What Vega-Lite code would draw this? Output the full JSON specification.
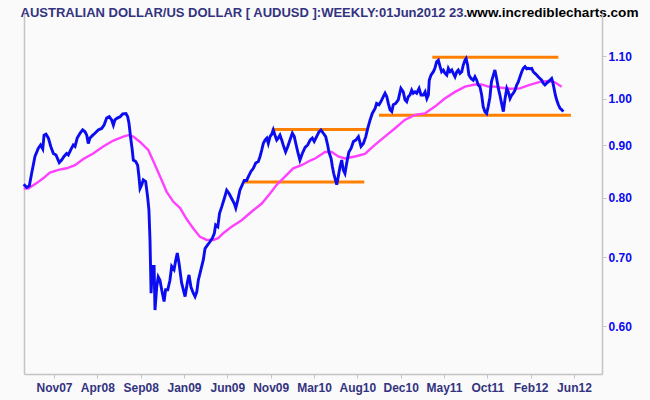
{
  "$schema": "https://vega.github.io/schema/vega-lite/v6.json",
  "width": 578,
  "height": 361,
  "autosize": {"type": "none"},
  "padding": {"left": 24, "top": 13, "right": 48, "bottom": 26},
  "background": "#fafafa",
  "config": {
    "view": {"stroke": null},
    "axis": {"grid": false, "domainColor": "#c4c4c4", "tickColor": "#c4c4c4", "domainWidth": 1.5, "tickWidth": 1}
  },
  "datasets": {
    "price": [
      {"week":0,"close":0.825},{"week":1.4,"close":0.819},{"week":2.6,"close":0.822},{"week":3.7,"close":0.846},{"week":5.2,"close":0.878},{"week":6.7,"close":0.894},{"week":7.8,"close":0.901},{"week":8.8,"close":0.893},{"week":9.4,"close":0.921},{"week":10.3,"close":0.923},{"week":11.4,"close":0.915},{"week":12.5,"close":0.898},{"week":13.7,"close":0.884},{"week":14.9,"close":0.881},{"week":16.4,"close":0.866},{"week":17.5,"close":0.871},{"week":18.6,"close":0.878},{"week":19.8,"close":0.884},{"week":20.6,"close":0.881},{"week":21.7,"close":0.891},{"week":22.9,"close":0.901},{"week":23.7,"close":0.898},{"week":24.7,"close":0.915},{"week":26.0,"close":0.925},{"week":27.2,"close":0.932},{"week":28.3,"close":0.928},{"week":29.1,"close":0.921},{"week":29.8,"close":0.904},{"week":30.6,"close":0.915},{"week":31.9,"close":0.921},{"week":32.9,"close":0.925},{"week":34.4,"close":0.932},{"week":36.0,"close":0.935},{"week":37.1,"close":0.942},{"week":38.3,"close":0.957},{"week":39.5,"close":0.960},{"week":40.6,"close":0.953},{"week":41.4,"close":0.942},{"week":42.1,"close":0.953},{"week":43.2,"close":0.957},{"week":44.5,"close":0.960},{"week":45.7,"close":0.966},{"week":47.2,"close":0.967},{"week":48.0,"close":0.960},{"week":48.6,"close":0.946},{"week":49.5,"close":0.911},{"week":50.1,"close":0.891},{"week":50.6,"close":0.871},{"week":51.7,"close":0.868},{"week":52.6,"close":0.861},{"week":53.2,"close":0.839},{"week":53.7,"close":0.817},{"week":54.5,"close":0.824},{"week":55.2,"close":0.833},{"week":56.3,"close":0.830},{"week":57.2,"close":0.802},{"week":57.8,"close":0.779},{"week":58.3,"close":0.728},{"week":58.8,"close":0.646},{"week":59.4,"close":0.686},{"week":60.2,"close":0.686},{"week":60.6,"close":0.622},{"week":61.4,"close":0.655},{"week":62.1,"close":0.670},{"week":62.9,"close":0.665},{"week":63.7,"close":0.651},{"week":64.8,"close":0.634},{"week":65.5,"close":0.651},{"week":66.5,"close":0.651},{"week":67.5,"close":0.665},{"week":68.3,"close":0.686},{"week":69.4,"close":0.681},{"week":70.2,"close":0.696},{"week":70.9,"close":0.707},{"week":71.7,"close":0.691},{"week":72.9,"close":0.661},{"week":74.5,"close":0.641},{"week":75.5,"close":0.661},{"week":76.3,"close":0.673},{"week":77.2,"close":0.655},{"week":78.3,"close":0.646},{"week":79.1,"close":0.641},{"week":79.9,"close":0.648},{"week":80.6,"close":0.665},{"week":81.8,"close":0.681},{"week":82.9,"close":0.696},{"week":83.7,"close":0.714},{"week":84.9,"close":0.720},{"week":86.0,"close":0.725},{"week":87.1,"close":0.731},{"week":88.0,"close":0.739},{"week":88.6,"close":0.753},{"week":89.6,"close":0.750},{"week":90.4,"close":0.773},{"week":91.4,"close":0.784},{"week":92.6,"close":0.799},{"week":93.7,"close":0.814},{"week":94.8,"close":0.808},{"week":96.0,"close":0.799},{"week":97.2,"close":0.790},{"week":97.9,"close":0.782},{"week":98.8,"close":0.796},{"week":99.8,"close":0.814},{"week":100.9,"close":0.824},{"week":101.8,"close":0.832},{"week":102.9,"close":0.832},{"week":103.7,"close":0.839},{"week":104.9,"close":0.849},{"week":106.0,"close":0.855},{"week":107.1,"close":0.865},{"week":108.3,"close":0.868},{"week":109.1,"close":0.878},{"week":109.9,"close":0.891},{"week":110.6,"close":0.904},{"week":111.4,"close":0.911},{"week":112.2,"close":0.915},{"week":112.9,"close":0.904},{"week":113.7,"close":0.918},{"week":114.5,"close":0.923},{"week":115.2,"close":0.932},{"week":116.0,"close":0.921},{"week":116.8,"close":0.911},{"week":117.5,"close":0.915},{"week":118.3,"close":0.921},{"week":119.1,"close":0.911},{"week":119.8,"close":0.901},{"week":120.9,"close":0.887},{"week":121.9,"close":0.898},{"week":122.9,"close":0.911},{"week":124.0,"close":0.925},{"week":124.9,"close":0.918},{"week":125.6,"close":0.904},{"week":126.5,"close":0.887},{"week":127.5,"close":0.871},{"week":128.6,"close":0.884},{"week":129.9,"close":0.896},{"week":131.1,"close":0.901},{"week":132.2,"close":0.911},{"week":133.2,"close":0.915},{"week":134.1,"close":0.908},{"week":135.2,"close":0.918},{"week":136.3,"close":0.928},{"week":137.2,"close":0.932},{"week":138.3,"close":0.925},{"week":139.4,"close":0.918},{"week":140.3,"close":0.901},{"week":140.9,"close":0.887},{"week":141.9,"close":0.874},{"week":142.5,"close":0.858},{"week":143.1,"close":0.845},{"week":143.7,"close":0.836},{"week":144.5,"close":0.824},{"week":145.2,"close":0.839},{"week":146.0,"close":0.858},{"week":146.8,"close":0.871},{"week":147.5,"close":0.852},{"week":148.3,"close":0.845},{"week":149.1,"close":0.865},{"week":150.1,"close":0.887},{"week":151.1,"close":0.894},{"week":152.2,"close":0.908},{"week":153.3,"close":0.911},{"week":154.5,"close":0.918},{"week":155.7,"close":0.898},{"week":156.8,"close":0.904},{"week":157.9,"close":0.918},{"week":158.8,"close":0.935},{"week":159.9,"close":0.953},{"week":160.9,"close":0.967},{"week":162.2,"close":0.978},{"week":162.9,"close":0.989},{"week":164.0,"close":0.986},{"week":164.9,"close":0.993},{"week":166.0,"close":1.004},{"week":166.8,"close":1.012},{"week":167.6,"close":1.004},{"week":168.3,"close":0.989},{"week":169.1,"close":0.975},{"week":169.9,"close":0.971},{"week":170.6,"close":0.986},{"week":171.7,"close":0.989},{"week":172.9,"close":0.997},{"week":174.1,"close":1.023},{"week":175.2,"close":1.015},{"week":176.0,"close":0.997},{"week":176.8,"close":0.993},{"week":177.5,"close":1.004},{"week":178.3,"close":1.008},{"week":179.1,"close":1.019},{"week":179.8,"close":1.012},{"week":180.6,"close":1.015},{"week":181.4,"close":1.012},{"week":182.5,"close":1.023},{"week":183.4,"close":1.008},{"week":184.5,"close":1.008},{"week":185.3,"close":1.015},{"week":186.1,"close":1.000},{"week":186.8,"close":1.008},{"week":187.2,"close":1.042},{"week":188.0,"close":1.054},{"week":189.1,"close":1.062},{"week":189.8,"close":1.070},{"week":190.6,"close":1.086},{"week":191.4,"close":1.090},{"week":192.2,"close":1.074},{"week":192.9,"close":1.062},{"week":193.7,"close":1.066},{"week":194.5,"close":1.058},{"week":195.3,"close":1.054},{"week":196.0,"close":1.070},{"week":196.8,"close":1.062},{"week":197.6,"close":1.066},{"week":198.3,"close":1.058},{"week":199.1,"close":1.050},{"week":199.9,"close":1.062},{"week":200.6,"close":1.066},{"week":201.4,"close":1.058},{"week":202.2,"close":1.062},{"week":202.9,"close":1.078},{"week":203.7,"close":1.090},{"week":204.2,"close":1.094},{"week":204.9,"close":1.078},{"week":205.5,"close":1.054},{"week":206.5,"close":1.046},{"week":207.5,"close":1.042},{"week":208.3,"close":1.050},{"week":209.1,"close":1.042},{"week":209.8,"close":1.031},{"week":210.6,"close":1.027},{"week":211.4,"close":1.008},{"week":212.1,"close":0.982},{"week":212.9,"close":0.971},{"week":213.7,"close":0.967},{"week":214.4,"close":0.982},{"week":215.2,"close":1.003},{"week":215.9,"close":1.038},{"week":216.8,"close":1.054},{"week":217.5,"close":1.066},{"week":218.3,"close":1.046},{"week":219.1,"close":1.023},{"week":219.8,"close":1.008},{"week":220.6,"close":0.989},{"week":221.4,"close":0.971},{"week":222.2,"close":1.000},{"week":223.0,"close":1.023},{"week":223.7,"close":1.015},{"week":224.5,"close":1.000},{"week":225.3,"close":1.008},{"week":226.0,"close":1.012},{"week":226.8,"close":1.019},{"week":227.6,"close":1.031},{"week":228.3,"close":1.038},{"week":229.1,"close":1.050},{"week":229.9,"close":1.062},{"week":230.6,"close":1.070},{"week":231.4,"close":1.074},{"week":232.2,"close":1.069},{"week":232.9,"close":1.070},{"week":233.7,"close":1.069},{"week":234.5,"close":1.070},{"week":235.2,"close":1.062},{"week":236.0,"close":1.058},{"week":236.8,"close":1.054},{"week":237.5,"close":1.050},{"week":238.3,"close":1.046},{"week":239.1,"close":1.042},{"week":239.8,"close":1.035},{"week":240.6,"close":1.031},{"week":241.4,"close":1.035},{"week":242.1,"close":1.038},{"week":242.9,"close":1.042},{"week":243.7,"close":1.046},{"week":244.2,"close":1.038},{"week":244.8,"close":1.023},{"week":245.4,"close":1.008},{"week":246.0,"close":0.997},{"week":246.8,"close":0.986},{"week":247.6,"close":0.978},{"week":248.4,"close":0.975},{"week":249.1,"close":0.971}
    ],
    "ma": [
      {"week":0,"ma":0.817},{"week":2.1,"ma":0.817},{"week":6.0,"ma":0.827},{"week":9.0,"ma":0.836},{"week":12.1,"ma":0.847},{"week":16.0,"ma":0.852},{"week":19.8,"ma":0.855},{"week":23.7,"ma":0.861},{"week":27.5,"ma":0.873},{"week":32.1,"ma":0.884},{"week":36.7,"ma":0.898},{"week":41.4,"ma":0.910},{"week":46.0,"ma":0.918},{"week":48.3,"ma":0.921},{"week":50.6,"ma":0.918},{"week":53.7,"ma":0.907},{"week":57.5,"ma":0.891},{"week":59.8,"ma":0.869},{"week":62.9,"ma":0.840},{"week":66.0,"ma":0.811},{"week":69.1,"ma":0.793},{"week":72.2,"ma":0.782},{"week":75.2,"ma":0.763},{"week":78.3,"ma":0.747},{"week":81.4,"ma":0.733},{"week":84.5,"ma":0.728},{"week":87.5,"ma":0.728},{"week":89.8,"ma":0.731},{"week":92.1,"ma":0.739},{"week":96.0,"ma":0.750},{"week":100.6,"ma":0.761},{"week":105.3,"ma":0.776},{"week":109.9,"ma":0.790},{"week":113.7,"ma":0.808},{"week":116.8,"ma":0.824},{"week":120.6,"ma":0.839},{"week":124.4,"ma":0.855},{"week":128.3,"ma":0.861},{"week":132.2,"ma":0.870},{"week":134.5,"ma":0.874},{"week":139.1,"ma":0.887},{"week":142.2,"ma":0.887},{"week":145.2,"ma":0.878},{"week":148.3,"ma":0.874},{"week":152.9,"ma":0.878},{"week":157.5,"ma":0.883},{"week":162.1,"ma":0.901},{"week":166.7,"ma":0.918},{"week":171.3,"ma":0.935},{"week":175.9,"ma":0.953},{"week":180.6,"ma":0.964},{"week":185.2,"ma":0.967},{"week":189.8,"ma":0.982},{"week":194.4,"ma":1.000},{"week":199.1,"ma":1.015},{"week":203.7,"ma":1.027},{"week":208.3,"ma":1.032},{"week":211.4,"ma":1.032},{"week":214.4,"ma":1.027},{"week":217.5,"ma":1.027},{"week":219.8,"ma":1.025},{"week":224.4,"ma":1.022},{"week":229.0,"ma":1.023},{"week":233.6,"ma":1.031},{"week":238.3,"ma":1.038},{"week":242.1,"ma":1.040},{"week":245.2,"ma":1.037},{"week":248.3,"ma":1.027}
    ],
    "levels": [
      {"from":101.8,"to":157.2,"level":0.829},
      {"from":114.5,"to":158.8,"level":0.933},
      {"from":188.6,"to":246.8,"level":1.097},
      {"from":164.0,"to":252.6,"level":0.963}
    ]
  },
  "layer": [
    {
      "data": {"name": "levels"},
      "mark": {"type": "rule", "color": "#ff8000", "strokeWidth": 3},
      "encoding": {
        "x": {"field": "from", "type": "quantitative", "scale": {"domain": [0.14, 266.94], "nice": false, "zero": false}, "axis": {"orient": "top", "title": "AUSTRALIAN DOLLAR/US DOLLAR [ AUDUSD ]:WEEKLY:01Jun2012 23.", "labels": false, "ticks": false, "domain": false, "titleColor": "#333380", "titleFont": "Liberation Sans", "titleFontSize": 13, "titleFontWeight": "bold", "titleAlign": "left", "titleBaseline": "alphabetic", "titleAnchor": "start", "titleX": -4, "titleY": 3}},
        "x2": {"field": "to"},
        "y": {"field": "level", "type": "quantitative", "scale": {"type": "log", "domain": [0.5388, 1.2116], "nice": false}, "axis": null}
      }
    },
    {
      "data": {"name": "ma"},
      "mark": {"type": "line", "color": "#ff40ff", "strokeWidth": 2.4},
      "encoding": {
        "x": {"field": "week", "type": "quantitative", "axis": {"orient": "top", "title": "www.incrediblecharts.com", "labels": false, "ticks": false, "domain": false, "titleColor": "#000000", "titleFont": "Liberation Sans", "titleFontSize": 13.6, "titleFontWeight": "bold", "titleAlign": "right", "titleBaseline": "alphabetic", "titleAnchor": "end", "titleX": 614, "titleY": 3}},
        "y": {"field": "ma", "type": "quantitative", "axis": {"orient": "left", "title": null, "labels": false, "ticks": false, "domain": true}}
      }
    },
    {
      "data": {"name": "price"},
      "mark": {"type": "line", "color": "#0c0cf0", "strokeWidth": 2.9},
      "encoding": {
        "x": {"field": "week", "type": "quantitative", "axis": {"orient": "bottom", "title": null, "values": [14, 34, 54, 74, 94, 114, 134, 154, 174, 194, 214, 234, 254], "labelExpr": "['Nov07','Apr08','Sep08','Jan09','Jun09','Nov09','Mar10','Aug10','Dec10','May11','Oct11','Feb12','Jun12'][round((datum.value-14)/20)]", "tickSize": 4, "labelPadding": 4, "labelFont": "Liberation Sans", "labelFontSize": 12, "labelFontWeight": "bold", "labelColor": "#333380", "labelFlush": false, "labelOverlap": false}},
        "y": {"field": "close", "type": "quantitative", "axis": {"orient": "right", "title": null, "values": [0.6, 0.7, 0.8, 0.9, 1.0, 1.1], "format": ".2f", "tickSize": 4, "labelPadding": 2, "labelFont": "Liberation Sans", "labelFontSize": 12, "labelFontWeight": "bold", "labelColor": "#0a0af0"}}
      }
    }
  ],
  "resolve": {"axis": {"x": "independent", "y": "independent"}}
}
